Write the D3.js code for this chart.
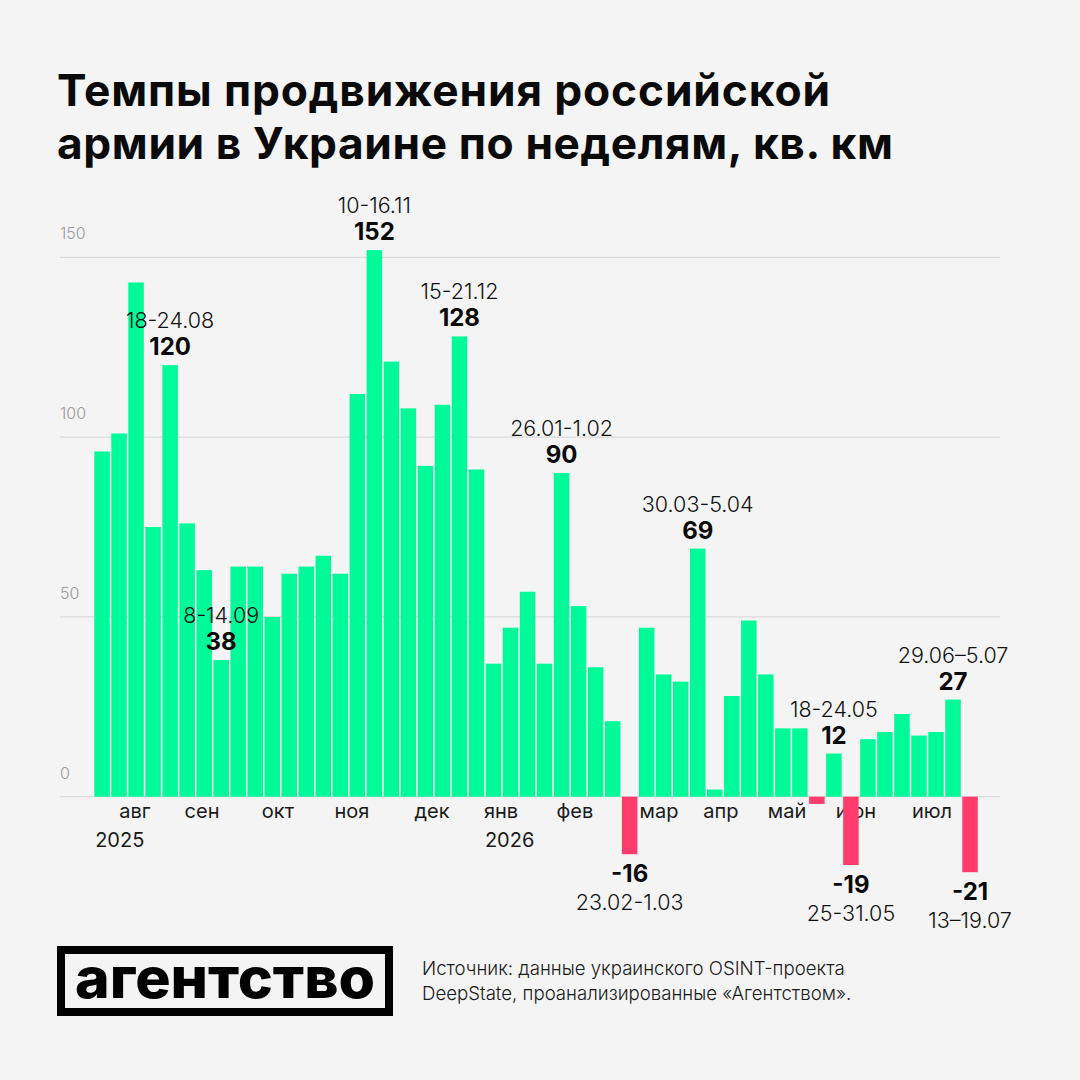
<!DOCTYPE html>
<html><head><meta charset="utf-8">
<script src="https://cdn.jsdelivr.net/npm/d3@7"></script>
<style>
html,body{margin:0;padding:0;background:#f4f4f4;}
svg{display:block;}
text{font-family:Inter,"Noto Sans",sans-serif;}
</style></head><body>
<svg id="c" width="1080" height="1080"></svg>
<script>
// ---- data ----
const values = [96,101,143,75,120,76,63,38,64,64,50,62,64,67,62,112,152,121,108,92,109,128,91,37,47,57,37,90,53,36,21,-16,47,34,32,69,2,28,49,34,19,19,-2,12,-19,16,18,23,17,18,27,-21];
const annotatedBars = [4,7,16,21,27,31,35,43,44,50,51];
const annotationDates = ["18-24.08","8-14.09","10-16.11","15-21.12","26.01-1.02","23.02-1.03","30.03-5.04","18-24.05","25-31.05","29.06–5.07","13–19.07"];
const yTicks = [0,50,100,150];
const monthLabels = ["авг","сен","окт","ноя","дек","янв","фев","мар","апр","май","июн","июл"];
const monthWeekPos = [2.39,6.33,10.79,15.14,19.84,23.9,28.24,33.18,36.82,40.7,44.75,49.22];
const yearLabels = ["2025","2026"];
const yearWeekPos = [0.05,22.95];
const titleLines = ["Темпы продвижения российской","армии в Украине по неделям, кв. км"];
const sourceLines = ["Источник: данные украинского OSINT-проекта","DeepState, проанализированные «Агентством»."];
const logoText = "агентство";

// ---- chart ----
const svg = d3.select("#c");
svg.append("rect").attr("width",1080).attr("height",1080).attr("fill","#f4f4f4");

const x = d3.scaleBand().domain(d3.range(values.length)).range([94.3, 977.8]).paddingInner(0.09).paddingOuter(0);
const xw = d3.scaleLinear().domain([0, values.length]).range([94.3, 94.3 + x.step()*values.length]);
const y = d3.scaleLinear().domain([0,150]).range([796.7,257.3]);
const GREEN = "#00fa9a", RED = "#ff3c6c";

// title
const title = svg.append("g");
titleLines.forEach((t,i)=>{
  title.append("text").attr("x",57).attr("y",106 + i*53)
    .attr("font-size",46).attr("font-weight",700).attr("fill","#0a0a0a").text(t);
});
const tNodes = title.selectAll("text").nodes();
const tTargets = [773, 836];
const w0 = tNodes[0].getComputedTextLength();
const fs = 46 * tTargets[0] / w0 * 0.97;
tNodes.forEach((n,i)=>{ d3.select(n).attr("font-size",fs).attr("textLength",tTargets[i]).attr("lengthAdjust","spacing"); });

// grid + y ticks
const grid = svg.append("g");
grid.selectAll("line").data(yTicks).join("line")
  .attr("x1",60).attr("x2",1000).attr("y1",d=>y(d)).attr("y2",d=>y(d))
  .attr("stroke","#d4d4d4").attr("stroke-width",1);
grid.selectAll("text").data(yTicks).join("text")
  .attr("x",60).attr("y",d=>y(d)-18).attr("font-size",16).attr("font-weight",300)
  .attr("fill","#9a9a9a").text(d=>d);

// month / year labels (under bars)
const axisG = svg.append("g");
axisG.selectAll("text.m").data(monthLabels).join("text").attr("class","m")
  .attr("x",(d,i)=>xw(monthWeekPos[i])).attr("y",818).attr("text-anchor","middle")
  .attr("font-size",20).attr("font-weight",400).attr("fill","#1a1a1a").text(d=>d);
axisG.selectAll("text.yr").data(yearLabels).join("text").attr("class","yr")
  .attr("x",(d,i)=>xw(yearWeekPos[i])).attr("y",847)
  .attr("font-size",20).attr("font-weight",400).attr("fill","#1a1a1a").text(d=>d);

// bars
svg.append("g").selectAll("rect").data(values).join("rect")
  .attr("x",(d,i)=>x(i)).attr("width",x.bandwidth())
  .attr("y",d=>y(Math.max(0,d))).attr("height",d=>Math.abs(y(d)-y(0)))
  .attr("fill",d=>d<0?RED:GREEN);

// annotations
const ann = svg.append("g");
annotatedBars.forEach((bi,k)=>{
  const v = values[bi];
  const cx = x(bi) + x.bandwidth()/2;
  if (v >= 0) {
    const vb = y(v) - 10;
    ann.append("text").attr("x",cx).attr("y",vb).attr("text-anchor","middle")
      .attr("font-size",24).attr("font-weight",700).attr("fill","#0a0a0a").text(v);
    ann.append("text").attr("x",cx).attr("y",vb-27).attr("text-anchor","middle")
      .attr("font-size",21.5).attr("font-weight",300).attr("fill","#111").text(annotationDates[k]);
  } else {
    const vb = y(v) + 28;
    ann.append("text").attr("x",cx).attr("y",vb).attr("text-anchor","middle")
      .attr("font-size",24).attr("font-weight",700).attr("fill","#0a0a0a").text(v);
    ann.append("text").attr("x",cx).attr("y",vb+28).attr("text-anchor","middle")
      .attr("font-size",21.5).attr("font-weight",300).attr("fill","#111").text(annotationDates[k]);
  }
});

// logo
const logo = svg.append("g");
logo.append("rect").attr("x",61).attr("y",950).attr("width",328).attr("height",62)
  .attr("fill","none").attr("stroke","#000").attr("stroke-width",8);
logo.append("text").attr("x",75).attr("y",998).attr("font-size",56).attr("font-weight",800)
  .attr("fill","#000").attr("textLength",300).attr("lengthAdjust","spacingAndGlyphs").text(logoText);

// source
const src = svg.append("g");
sourceLines.forEach((t,i)=>{
  src.append("text").attr("x",422).attr("y",975 + i*25).attr("font-size",18).attr("font-weight",300)
    .attr("fill","#1a1a1a").text(t);
});
const sNodes = src.selectAll("text").nodes();
const sw = sNodes[0].getComputedTextLength();
const sfs = 18 * 423 / sw;
sNodes.forEach(n=>d3.select(n).attr("font-size",sfs));
</script>
</body></html>
